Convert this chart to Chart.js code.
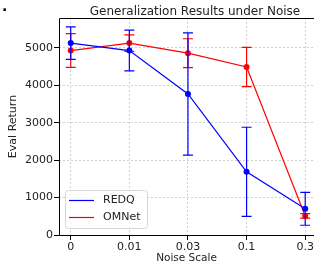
<!DOCTYPE html>
<html>
<head>
<meta charset="utf-8">
<script src="https://cdn.jsdelivr.net/npm/chart.js@4"></script>
<style>
  html, body { margin: 0; padding: 0; background: #fff; overflow: hidden; }
  #wrap { position: relative; width: 318px; height: 265px; }
  #dot { position: absolute; left: 2px; top: -2px; font: bold 14px "DejaVu Sans"; color: #000; }
</style>
</head>
<body>
<div id="wrap">
  <canvas id="chart" width="318" height="265"></canvas>
  <div id="dot">.</div>
</div>
<script>
// x軸のラベル（ノイズスケール）
const noiseLabels = ['0', '0.01', '0.03', '0.1', '0.3'];
// REDQ 平均と誤差
const redqMean = [5130, 4930, 3770, 1690, 700];
const redqErr = [435, 545, 1635, 1190, 440];
// OMNet 平均と誤差
const omnetMean = [4930, 5130, 4860, 4490, 510];
const omnetErr = [450, 220, 385, 525, 60];
// y軸の目盛り
const yTicks = [0, 1000, 2000, 3000, 4000, 5000];
const titleText = 'Generalization Results under Noise';

const FONT = 'DejaVu Sans';

// 誤差棒の描画
const errorBars = {
  id: 'errorBars',
  afterDatasetDraw(chart, args) {
    const ds = chart.data.datasets[args.index];
    const xs = chart.scales.x, ys = chart.scales.y;
    const ctx = chart.ctx;
    ctx.save();
    ctx.setLineDash([]);
    ctx.strokeStyle = ds.borderColor;
    ctx.lineWidth = 1.2;
    ds.data.forEach((p, i) => {
      const x = xs.getPixelForValue(p.x);
      const top = ys.getPixelForValue(p.y + ds.errors[i]);
      const bot = ys.getPixelForValue(p.y - ds.errors[i]);
      ctx.beginPath();
      ctx.moveTo(x, top); ctx.lineTo(x, bot);
      ctx.moveTo(x - 5, top); ctx.lineTo(x + 5, top);
      ctx.moveTo(x - 5, bot); ctx.lineTo(x + 5, bot);
      ctx.stroke();
    });
    ctx.restore();
  }
};

// 枠・タイトル・凡例
const frameLegend = {
  id: 'frameLegend',
  afterDraw(chart) {
    const a = chart.chartArea, ctx = chart.ctx;
    ctx.save();
    ctx.setLineDash([]);
    ctx.strokeStyle = '#000';
    ctx.lineWidth = 1;
    ctx.beginPath();
    ctx.moveTo(a.left + 0.5, a.bottom); ctx.lineTo(a.left + 0.5, a.top + 0.5);
    ctx.lineTo(a.right, a.top + 0.5);
    ctx.moveTo(a.left, a.bottom + 0.5); ctx.lineTo(a.right, a.bottom + 0.5);
    ctx.stroke();

    // タイトル
    ctx.fillStyle = '#222';
    ctx.font = '12px "' + FONT + '"';
    ctx.textAlign = 'center';
    ctx.textBaseline = 'alphabetic';
    ctx.fillText(titleText, 195, 15);

    // 凡例ボックス
    const bx = 65.5, by = 190.5, bw = 82, bh = 38, r = 3;
    ctx.fillStyle = 'rgba(255,255,255,0.8)';
    ctx.strokeStyle = '#d6d6d6';
    ctx.beginPath();
    ctx.roundRect(bx, by, bw, bh, r);
    ctx.fill(); ctx.stroke();
    ctx.font = '11px "' + FONT + '"';
    ctx.textAlign = 'left';
    ctx.textBaseline = 'middle';
    chart.data.datasets.forEach((ds, i) => {
      const y = 200.5 + i * 17;
      ctx.strokeStyle = ds.borderColor;
      ctx.lineWidth = 1.2;
      ctx.beginPath();
      ctx.moveTo(69, y); ctx.lineTo(94, y);
      ctx.stroke();
      ctx.fillStyle = '#222';
      ctx.fillText(ds.label, 103, y);
    });
    ctx.restore();
  }
};

const gridStyle = {
  color: '#c4c4c4',
  lineWidth: 0.8,
  drawTicks: true,
  tickLength: 5,
  tickColor: '#000',
  tickWidth: 1,
  tickBorderDash: []
};
const borderStyle = { display: false, dash: [2, 2] };

new Chart(document.getElementById('chart'), {
  type: 'line',
  data: {
    datasets: [
      {
        label: 'REDQ',
        data: redqMean.map((v, i) => ({ x: i, y: v })),
        errors: redqErr,
        borderColor: '#0000ff',
        backgroundColor: '#0000ff',
        borderWidth: 1.2,
        pointRadius: 3,
        pointBorderWidth: 0,
        tension: 0
      },
      {
        label: 'OMNet',
        data: omnetMean.map((v, i) => ({ x: i, y: v })),
        errors: omnetErr,
        borderColor: '#ff0000',
        backgroundColor: '#ff0000',
        borderWidth: 1.2,
        pointRadius: 3,
        pointBorderWidth: 0,
        tension: 0
      }
    ]
  },
  plugins: [errorBars, frameLegend],
  options: {
    responsive: false,
    animation: false,
    layout: { padding: { left: 0, right: 0, top: 18, bottom: 0 } },
    plugins: {
      legend: { display: false },
      tooltip: { enabled: false },
      title: { display: false }
    },
    scales: {
      x: {
        type: 'linear',
        min: -0.2,
        max: 4.15,
        afterBuildTicks: s => { s.ticks = noiseLabels.map((_, i) => ({ value: i })); },
        afterFit: s => { s.height = 30; },
        grid: gridStyle,
        border: borderStyle,
        ticks: {
          color: '#222',
          font: { family: FONT, size: 11 },
          padding: 1,
          maxRotation: 0,
          callback: v => noiseLabels[v]
        },
        title: {
          display: true,
          text: 'Noise Scale',
          color: '#222',
          font: { family: FONT, size: 10.5 },
          padding: { top: 0, bottom: 0 }
        }
      },
      y: {
        min: 0,
        max: 5800,
        afterBuildTicks: s => { s.ticks = yTicks.map(v => ({ value: v })); },
        afterFit: s => { s.width = 59; },
        grid: gridStyle,
        border: borderStyle,
        ticks: {
          color: '#222',
          font: { family: FONT, size: 11 },
          padding: 1,
          callback: v => String(v)
        },
        title: {
          display: true,
          text: 'Eval Return',
          color: '#222',
          font: { family: FONT, size: 11 },
          padding: { top: 7, bottom: 0 }
        }
      }
    }
  }
});
</script>
</body>
</html>
